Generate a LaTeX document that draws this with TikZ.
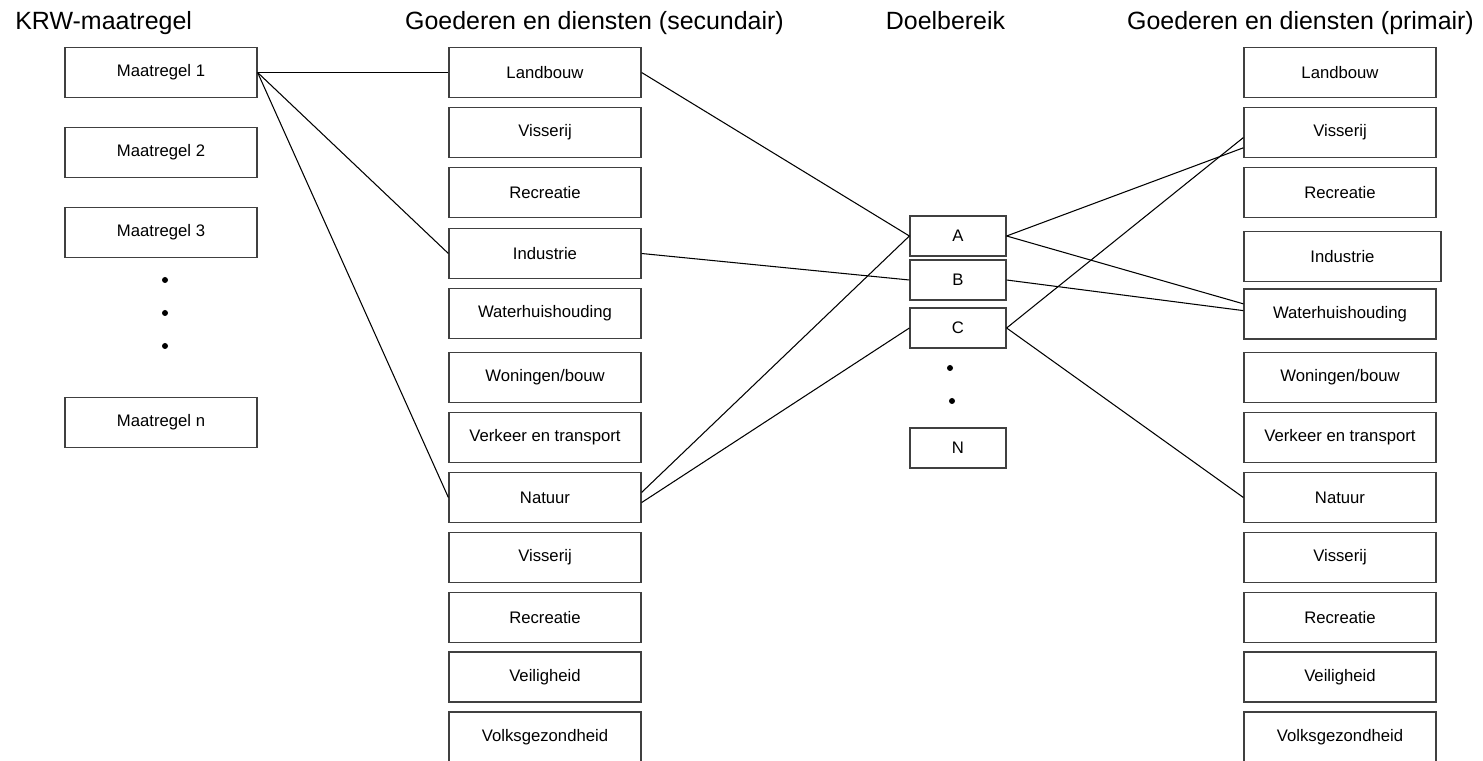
\documentclass[tikz,border=0pt]{standalone}
\usepackage{fontspec}
\setmainfont{Liberation Sans}

\tikzset{
  vak/.style={draw=black!75, line width=0.7pt, minimum width=3.84cm, minimum height=1cm, inner sep=0pt, font=\fontsize{9.5}{11}\selectfont},
  doel/.style={vak, minimum width=1.92cm, minimum height=0.8cm},
  kop/.style={font=\fontsize{14.2}{17}\selectfont, inner sep=0pt},
  lijn/.style={line width=0.6pt}
}

\begin{document}
\begin{tikzpicture}
			\useasboundingbox (0, 0) rectangle (29.66, -15.22);
			\clip (0, 0) rectangle (29.66, -15.22);
			
			\node[kop, anchor=base west] (t1) at (0.3, -0.6) {KRW-maatregel};
			\node[kop, anchor=base] (t2) at (11.89, -0.6) {Goederen en diensten (secundair)};
			\node[kop, anchor=base] (t3) at (18.91, -0.6) {Doelbereik};
			\node[kop, anchor=base] (t4) at (26.01, -0.6) {Goederen en diensten (primair)};
			
			% maatregelen
			\node[vak] (m1) at (3.22, -1.45) {Maatregel 1};
			\node[vak] (m2) at (3.22, -3.05) {Maatregel 2};
			\node[vak] (m3) at (3.22, -4.65) {Maatregel 3};
			\node[vak] (mn) at (3.22, -8.45) {Maatregel n};
			\fill (3.3, -5.6) circle (0.06);
			\fill (3.3, -6.26) circle (0.06);
			\fill (3.3, -6.92) circle (0.06);
			
			% secundair
			\node[vak] (s1) at (10.9, -1.45) {Landbouw};
			\node[vak] (s2) at (10.9, -2.65) {Visserij};
			\node[vak] (s3) at (10.9, -3.85) {Recreatie};
			\node[vak] (s4) at (10.9, -5.07) {Industrie};
			\node[vak] (s5) at (10.9, -6.27) {Waterhuishouding};
			\node[vak] (s6) at (10.9, -7.55) {Woningen/bouw};
			\node[vak] (s7) at (10.9, -8.75) {Verkeer en transport};
			\node[vak] (s8) at (10.9, -9.95) {Natuur};
			\node[vak] (s9) at (10.9, -11.15) {Visserij};
			\node[vak] (s10) at (10.9, -12.35) {Recreatie};
			\node[vak] (s11) at (10.9, -13.54) {Veiligheid};
			\node[vak] (s12) at (10.9, -14.74) {Volksgezondheid};
			
			% doelbereik
			\node[doel] (da) at (19.16, -4.72) {A};
			\node[doel] (db) at (19.16, -5.6) {B};
			\node[doel] (dc) at (19.16, -6.56) {C};
			\node[doel] (dn) at (19.16, -8.96) {N};
			\fill (19.0, -7.36) circle (0.06);
			\fill (19.04, -8.02) circle (0.06);
			
			% primair
			\node[vak] (p1) at (26.8, -1.45) {Landbouw};
			\node[vak] (p2) at (26.8, -2.65) {Visserij};
			\node[vak] (p3) at (26.8, -3.85) {Recreatie};
			\node[vak, minimum width=3.94cm] (p4) at (26.85, -5.13) {Industrie};
			\node[vak] (p5) at (26.8, -6.28) {Waterhuishouding};
			\node[vak] (p6) at (26.8, -7.55) {Woningen/bouw};
			\node[vak] (p7) at (26.8, -8.75) {Verkeer en transport};
			\node[vak] (p8) at (26.8, -9.95) {Natuur};
			\node[vak] (p9) at (26.8, -11.15) {Visserij};
			\node[vak] (p10) at (26.8, -12.35) {Recreatie};
			\node[vak] (p11) at (26.8, -13.54) {Veiligheid};
			\node[vak] (p12) at (26.8, -14.74) {Volksgezondheid};
			
			\draw[lijn] (m1.east)--(s1.west);
			\draw[lijn] (m1.east)--(s4.west);
			\draw[lijn] (m1.east)--(s8.west);
			
			\draw[lijn] (s1.east)--(da.west);
			\draw[lijn] (s4.east)--(db.west);
			\draw[lijn] (s8.3)--(da.west);
			\draw[lijn] (s8.357)--(dc.west);
			
			\draw[lijn] (da.east)--(p2.189);
			\draw[lijn] (da.east)--(p5.174);
			\draw[lijn] (db.east)--(p5.178);
			\draw[lijn] (dc.east)--(p2.183);
			\draw[lijn] (dc.east)--(p8.west);
		\end{tikzpicture}
\end{document}
